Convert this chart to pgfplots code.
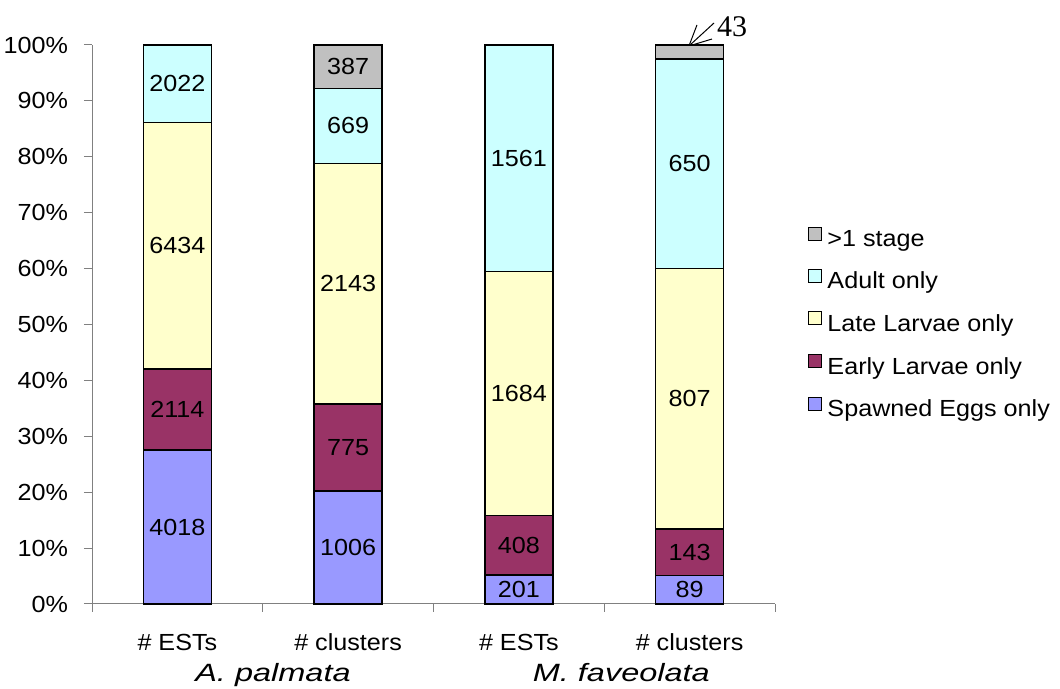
\documentclass[border=0pt]{standalone}
\usepackage{pgfplots}
\pgfplotsset{compat=1.18}
\usepackage{pgfplotstable}
\usepackage{fontspec}
\setmainfont{Liberation Sans}[FakeStretch=1.08]
\newfontfamily\grp{Liberation Sans}[FakeStretch=1.3]
\newfontfamily\timesf{Liberation Serif}
\definecolor{cEggs}{HTML}{9999FF}
\definecolor{cEarly}{HTML}{993366}
\definecolor{cLate}{HTML}{FFFFCC}
\definecolor{cAdult}{HTML}{CCFFFF}
\definecolor{cMulti}{HTML}{C0C0C0}
\definecolor{axgray}{HTML}{808080}

% percentages of each bar
\pgfplotstableread{
x eggs early late adult multi
0 27.54 14.49 44.10 13.86 0
1 20.20 15.56 43.03 13.43 7.77
2 5.22 10.59 43.69 40.50 0
3 5.14 8.26 46.59 37.53 2.48
}\pct

% raw counts, placed at the middle of each segment
\pgfplotstableread{
x y lab
0 13.77 4018
0 34.79 2114
0 64.09 6434
0 93.07 2022
1 10.10 1006
1 27.98 775
1 57.28 2143
1 85.52 669
1 96.12 387
2 2.61 201
2 10.51 408
2 37.65 1684
2 79.75 1561
3 2.57 89
3 9.27 143
3 36.69 807
3 78.75 650
}\labs

\begin{document}
\fontsize{23.3}{27}\selectfont
\begin{tikzpicture}[x=1pt,y=1pt]
\path[use as bounding box] (0,0) rectangle (1060,688);
\begin{axis}[
  at={(92pt,84pt)}, anchor=south west,
  scale only axis, width=683pt, height=559pt,
  ybar stacked, bar width=68pt,
  xmin=-0.5, xmax=3.5, ymin=0, ymax=100,
  axis lines*=left,
  axis line style={-, draw=axgray, line width=1pt},
  tick style={draw=axgray, line width=1pt},
  tick align=outside, major tick length=8pt,
  xtick={-0.5,0.5,1.5,2.5,3.5}, xticklabels={},
  ytick={0,10,...,100},
  yticklabels={0\%,10\%,20\%,30\%,40\%,50\%,60\%,70\%,80\%,90\%,100\%},
  yticklabel style={xshift=-8pt},
  clip=false,
  every axis plot/.append style={draw=black, line width=1.4pt},
  reverse legend,
  legend cell align=left,
  legend style={at={(1.0439,0.5)}, anchor=west, draw=none, fill=none,
    row sep=17pt, nodes={inner sep=2pt},
    /tikz/every odd column/.append style={column sep=4pt}},
  legend image code/.code={\draw[#1, draw=black, line width=0.8pt] (0pt,0pt) rectangle (12.5pt,13pt);},
]
\addplot[fill=cEggs] table[x=x,y=eggs] {\pct};
\addlegendentry{Spawned Eggs only}
\addplot[fill=cEarly] table[x=x,y=early] {\pct};
\addlegendentry{Early Larvae only}
\addplot[fill=cLate] table[x=x,y=late] {\pct};
\addlegendentry{Late Larvae only}
\addplot[fill=cAdult] table[x=x,y=adult] {\pct};
\addlegendentry{Adult only}
\addplot[fill=cMulti] table[x=x,y=multi] {\pct};
\addlegendentry{>1 stage}

\node[anchor=base] at (axis cs:0,-8.23) {\# ESTs};
\node[anchor=base] at (axis cs:1,-8.23) {\# clusters};
\node[anchor=base] at (axis cs:2,-8.23) {\# ESTs};
\node[anchor=base] at (axis cs:3,-8.23) {\# clusters};
\node[anchor=base] at (axis cs:0.56,-13.8) {\grp\itshape\fontsize{25}{29}\selectfont A. palmata};
\node[anchor=base] at (axis cs:2.6,-13.8) {\grp\itshape\fontsize{25}{29}\selectfont M. faveolata};

% annotation arrow for the small ">1 stage" segment
\draw[line width=1pt] (axis cs:3.143,103.94) -- (axis cs:2.996,99.82);
\draw[line width=1pt] (axis cs:3.043,103.58) -- (axis cs:2.996,99.82) -- (axis cs:3.131,101.07);
\node[anchor=base west, inner sep=0pt, font=\timesf\fontsize{30}{30}\selectfont]
  at (axis cs:3.16,101.6) {43};
\end{axis}

\begin{axis}[
  at={(92pt,84pt)}, anchor=south west,
  scale only axis, width=683pt, height=559pt,
  xmin=-0.5, xmax=3.5, ymin=0, ymax=100,
  hide axis, clip=false,
]
\addplot[draw=none, mark=none, nodes near coords, point meta=explicit symbolic,
  every node near coord/.append style={anchor=center, text=black, inner sep=0pt}]
  table[x=x,y=y,meta=lab] {\labs};
\end{axis}
\end{tikzpicture}
\end{document}
